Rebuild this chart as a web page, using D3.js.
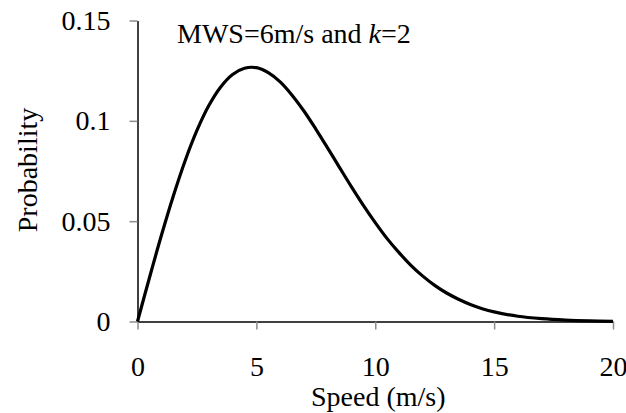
<!DOCTYPE html>
<html>
<head>
  <title>wind speed distribution</title>
  <script src="https://d3js.org/d3.v7.min.js"></script>
  <style>
    body { margin: 0; background: #fff; }
    svg text { font-family: "Liberation Serif", "Times New Roman", Times, "DejaVu Serif", serif; fill: #000; }
  </style>
</head>
<body>
  <div id="chart"></div>
  <script type="text/javascript">
    // speed (m/s) and probability, every 0.5 m/s up to 15, then every 1 m/s
    var speeds = [0, 0.5, 1, 1.5, 2, 2.5, 3, 3.5, 4, 4.5, 5, 5.5, 6, 6.5, 7, 7.5, 8, 8.5, 9, 9.5,
      10, 10.5, 11, 11.5, 12, 12.5, 13, 13.5, 14, 14.5, 15, 16, 17, 18, 19, 20]
    var probs = [0, 0.0217, 0.0427, 0.0623, 0.0800, 0.0952, 0.1076, 0.1169, 0.1231, 0.1262, 0.1265,
      0.1240, 0.1194, 0.1128, 0.1049, 0.0959, 0.0864, 0.0767, 0.0671, 0.0579, 0.0493, 0.0413,
      0.0343, 0.0280, 0.0226, 0.0180, 0.0142, 0.0111, 0.0085, 0.0064, 0.0048, 0.0026, 0.0014,
      0.0007, 0.0003, 0.0001]
    var xTicks = [0, 5, 10, 15, 20]
    var yTicks = [0, 0.05, 0.1, 0.15]
    var yTickLabels = ["0", "0.05", "0.1", "0.15"]

    var width = 626, height = 413
    var margin = { left: 137.5, right: 13, top: 20.5, bottom: 91.5 }

    var svg = d3.select("#chart").append("svg")
      .attr("width", width).attr("height", height)

    var x = d3.scaleLinear().domain([0, 20]).range([margin.left, width - margin.right])
    var y = d3.scaleLinear().domain([0, 0.15]).range([height - margin.bottom, margin.top])

    var xAxis = svg.append("g")
      .attr("transform", "translate(0," + y(0) + ")")
      .call(d3.axisBottom(x).tickValues(xTicks).tickSize(8).tickPadding(27).tickSizeOuter(0))
    var yAxis = svg.append("g")
      .attr("transform", "translate(" + x(0) + ",0)")
      .call(d3.axisLeft(y).tickValues(yTicks).tickFormat((d, i) => yTickLabels[i]).tickSize(8).tickPadding(19).tickSizeOuter(0))

    xAxis.attr("font-family", null)
    yAxis.attr("font-family", null)
    svg.selectAll(".tick line").attr("stroke", "#8c8c8c").attr("stroke-width", 1.5)
    svg.selectAll(".domain").attr("stroke", "#000").attr("stroke-width", 1.5)
    svg.selectAll(".tick text").attr("font-size", 28)

    var line = d3.line()
      .x((d, i) => x(speeds[i]))
      .y(d => y(d))
      .curve(d3.curveCatmullRom.alpha(0.5))

    svg.append("path")
      .datum(probs)
      .attr("fill", "none")
      .attr("stroke", "#000")
      .attr("stroke-width", 3.2)
      .attr("d", line)

    // axis titles
    svg.append("text")
      .attr("x", (x(0) + x(20)) / 2 + 3)
      .attr("y", 406)
      .attr("text-anchor", "middle")
      .attr("font-size", 28)
      .text("Speed (m/s)")

    svg.append("text")
      .attr("transform", "translate(37," + 170 + ") rotate(-90)")
      .attr("text-anchor", "middle")
      .attr("font-size", 28)
      .text("Probability")

    var title = svg.append("text")
      .attr("x", 177)
      .attr("y", 43)
      .attr("font-size", 28)
    title.append("tspan").text("MWS=6m/s and ")
    title.append("tspan").attr("font-style", "italic").text("k")
    title.append("tspan").text("=2")
  </script>
</body>
</html>
